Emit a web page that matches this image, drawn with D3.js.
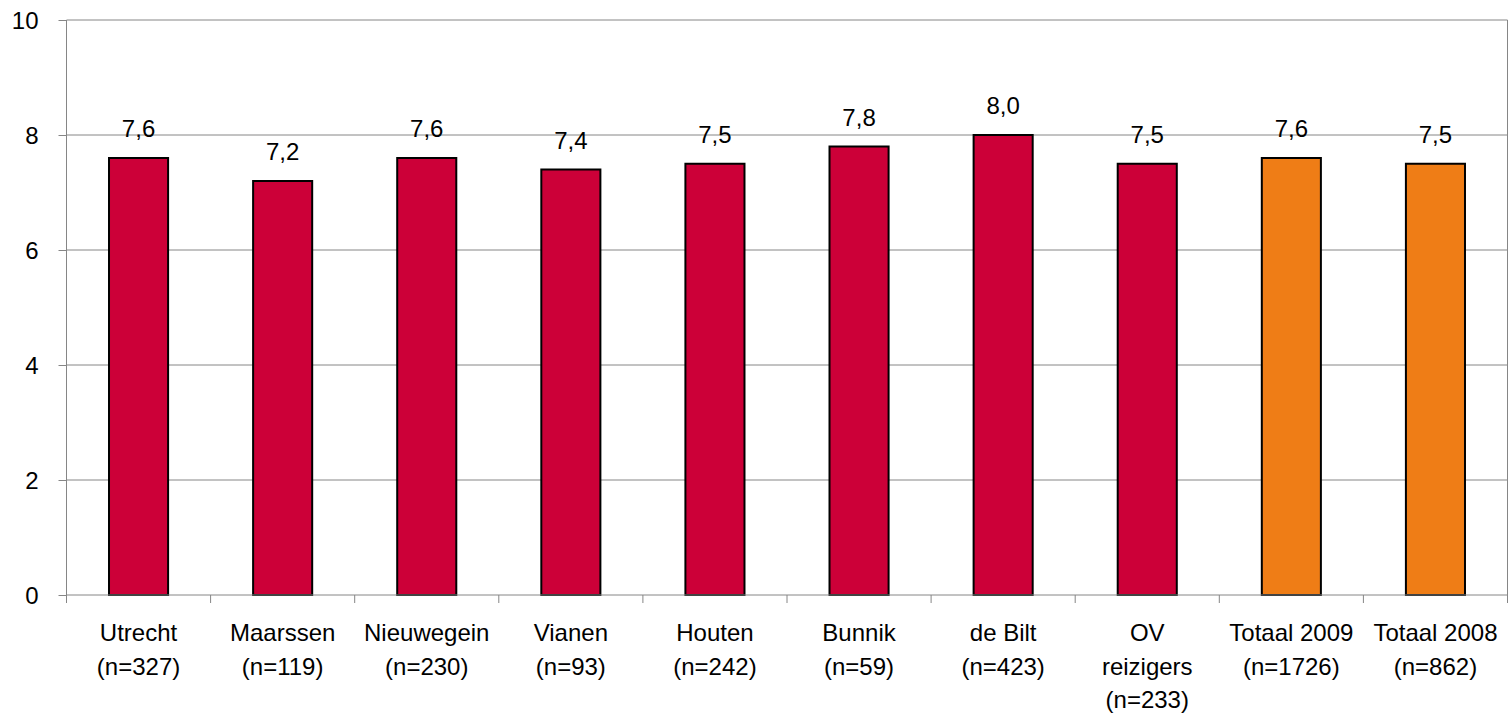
<!DOCTYPE html>
<html>
<head>
<meta charset="utf-8">
<script src="https://cdn.jsdelivr.net/npm/d3@7"></script>
<style>
  html, body { margin: 0; padding: 0; background: #fff; overflow: hidden; }
  svg { display: block; }
  text { font-family: "Liberation Sans", Arial, sans-serif; fill: #000; }
</style>
</head>
<body>
<div id="chart"></div>
<script>
// Data
var categories = ["Utrecht|(n=327)", "Maarssen|(n=119)", "Nieuwegein|(n=230)", "Vianen|(n=93)",
  "Houten|(n=242)", "Bunnik|(n=59)", "de Bilt|(n=423)", "OV|reizigers|(n=233)",
  "Totaal 2009|(n=1726)", "Totaal 2008|(n=862)"];
var values = [7.6, 7.2, 7.6, 7.4, 7.5, 7.8, 8.0, 7.5, 7.6, 7.5];
var barGroup = ["g", "g", "g", "g", "g", "g", "g", "g", "t", "t"];
var yTicks = [0, 2, 4, 6, 8, 10];

// Dimensions
var outerWidth = 1509;
var outerHeight = 713;
var marginLeft = 66.5;
var marginRight = 1.5;
var marginTop = 20;
var marginBottom = 118;
var innerWidth = outerWidth - marginLeft - marginRight;
var innerHeight = outerHeight - marginTop - marginBottom;
var fontSize = "24px";

var colors = { g: "#CC0038", t: "#EF7D16" };

var svg = d3.select("#chart").append("svg")
  .attr("width", outerWidth)
  .attr("height", outerHeight);

var g = svg.append("g").attr("transform", "translate(" + marginLeft + "," + marginTop + ")");

var xScale = d3.scaleBand().domain(categories).range([0, innerWidth]).paddingInner(0.59).paddingOuter(0.295);
var xBand = d3.scaleBand().domain(categories).range([0, innerWidth]);
var yScale = d3.scaleLinear().domain([0, 10]).range([innerHeight, 0]);

// gridlines
g.selectAll("line.grid").data(yTicks.filter(function(d) { return d > 0; }))
  .enter().append("line")
  .attr("class", "grid")
  .attr("x1", 0).attr("x2", innerWidth)
  .attr("y1", function(d) { return yScale(d); })
  .attr("y2", function(d) { return yScale(d); })
  .attr("stroke", "#868686").attr("stroke-width", 1);

// right border
g.append("line")
  .attr("x1", innerWidth).attr("x2", innerWidth)
  .attr("y1", 0).attr("y2", innerHeight)
  .attr("stroke", "#868686").attr("stroke-width", 1);

// bars
g.selectAll("rect.bar").data(values)
  .enter().append("rect")
  .attr("class", "bar")
  .attr("x", function(d, i) { return xScale(categories[i]); })
  .attr("width", xScale.bandwidth())
  .attr("y", function(d) { return yScale(d); })
  .attr("height", function(d) { return innerHeight - yScale(d); })
  .attr("fill", function(d, i) { return colors[barGroup[i]]; })
  .attr("stroke", "#000").attr("stroke-width", 2);

// value labels
g.selectAll("text.val").data(values)
  .enter().append("text")
  .attr("class", "val")
  .attr("x", function(d, i) { return xScale(categories[i]) + xScale.bandwidth() / 2; })
  .attr("y", function(d) { return yScale(d) - 21; })
  .attr("text-anchor", "middle")
  .style("font-size", fontSize)
  .text(function(d) { return d.toFixed(1).replace(".", ","); });

// y axis
var yAxis = d3.axisLeft(yScale).tickValues(yTicks).tickSize(8).tickPadding(20).tickFormat(d3.format("d"));
var yAxisG = g.append("g").call(yAxis);
yAxisG.select(".domain").attr("stroke", "#868686").attr("d", "M0,0V" + innerHeight);
yAxisG.selectAll(".tick line").attr("stroke", "#868686");
yAxisG.selectAll(".tick text").style("font-size", fontSize).attr("dy", "0.36em");

// x axis
var xAxisG = g.append("g").attr("transform", "translate(0," + innerHeight + ")");
xAxisG.append("line").attr("x1", 0).attr("x2", innerWidth).attr("stroke", "#868686");
xAxisG.selectAll("line.xt").data(d3.range(categories.length + 1))
  .enter().append("line")
  .attr("class", "xt")
  .attr("x1", function(i) { return i * xBand.step(); })
  .attr("x2", function(i) { return i * xBand.step(); })
  .attr("y1", 0).attr("y2", 8)
  .attr("stroke", "#868686");

var labels = xAxisG.selectAll("text.cat").data(categories)
  .enter().append("text")
  .attr("class", "cat")
  .attr("text-anchor", "middle")
  .attr("x", function(d) { return xBand(d) + xBand.bandwidth() / 2; })
  .attr("y", 46)
  .style("font-size", fontSize);
labels.each(function(d) {
  var parts = d.split("|");
  var t = d3.select(this);
  parts.forEach(function(p, k) {
    t.append("tspan")
      .attr("x", xBand(d) + xBand.bandwidth() / 2)
      .attr("y", 46 + k * 33.5)
      .text(p);
  });
});
</script>
</body>
</html>
